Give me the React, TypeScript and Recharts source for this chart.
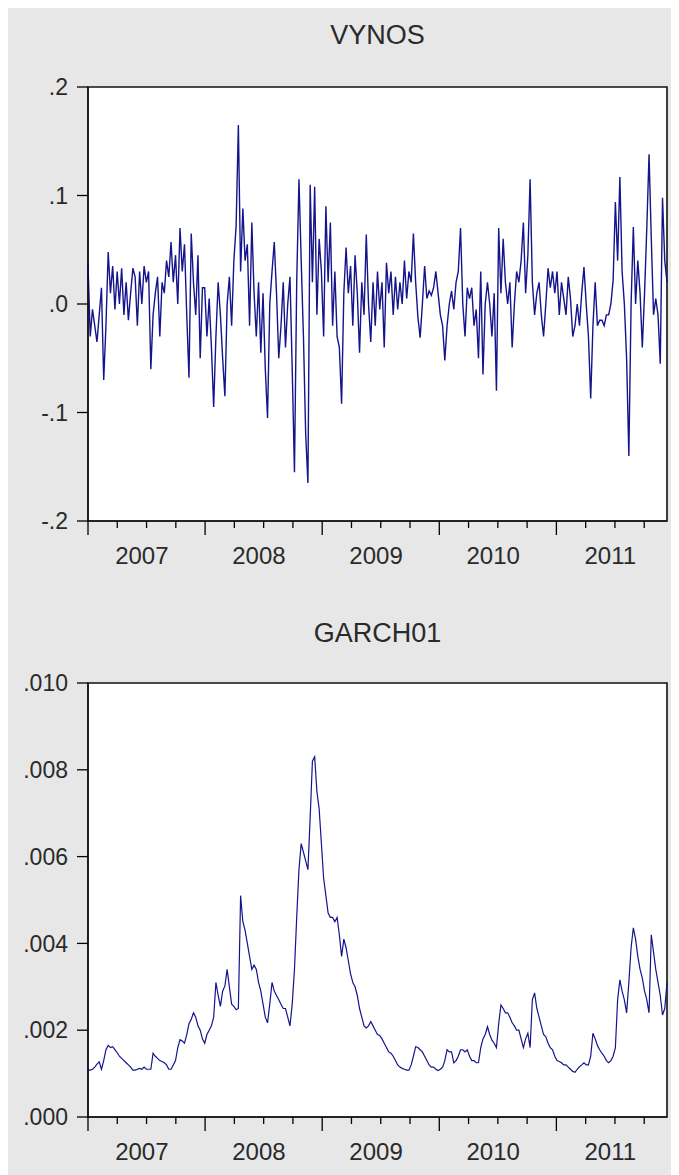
import React from 'react';
import { LineChart, Line, XAxis, YAxis, CartesianGrid, ReferenceArea } from 'recharts';

const START_YEAR = 2007;
const WEEK = 7 / 365.25;
const YEARS = [2007, 2008, 2009, 2010, 2011];

// weekly returns, Jan 2007 - Dec 2011
const VYNOS = [
  // 2007
  0.036, -0.03, -0.005, -0.02, -0.035, -0.01, 0.015, -0.07, -0.02, 0.048,
  0.01, 0.035, -0.005, 0.03, 0.0, 0.033, -0.01, 0.02, -0.015, 0.01,
  0.033, 0.025, -0.02, 0.03, 0.0, 0.035, 0.02, 0.03, -0.06, -0.01,
  0.01, 0.025, -0.03, 0.02, 0.01, 0.04, 0.025, 0.057, 0.02, 0.045,
  0.0, 0.07, 0.03, 0.055, -0.01, -0.068, 0.065, 0.02, -0.01, 0.045,
  -0.05, 0.015,
  // 2008
  0.015, -0.03, 0.005, -0.04, -0.095, -0.03, 0.02, -0.01, -0.05, -0.085,
  0.0, 0.025, -0.02, 0.04, 0.072, 0.165, 0.03, 0.088, 0.04, 0.055,
  -0.02, 0.075, 0.01, -0.03, 0.02, -0.045, 0.01, -0.06, -0.105, 0.0,
  0.03, 0.057, 0.01, -0.05, -0.02, 0.02, -0.04, 0.0, 0.025, -0.06,
  -0.155, 0.02, 0.115, 0.04, -0.03, -0.12, -0.165, 0.11, 0.02, 0.108,
  -0.01, 0.06,
  // 2009
  0.03, -0.03, 0.09, 0.02, 0.075, -0.02, 0.03, -0.03, -0.04, -0.092,
  0.01, 0.052, 0.01, 0.035, -0.02, 0.045, 0.01, -0.045, 0.02, -0.01,
  0.064, 0.0, -0.035, 0.02, -0.02, 0.03, -0.005, 0.02, -0.04, 0.038,
  0.01, 0.03, -0.01, 0.025, -0.005, 0.02, 0.0, 0.04, 0.005, 0.03,
  0.02, 0.065, 0.02, -0.012, -0.031, 0.0, 0.035, 0.005, 0.012, 0.008,
  0.015, 0.03,
  // 2010
  0.01, -0.01, -0.02, -0.052, -0.02, 0.0, 0.012, -0.005, 0.02, 0.03,
  0.07, 0.0, -0.03, 0.015, 0.005, 0.015, -0.02, -0.005, -0.05, 0.03,
  -0.065, 0.0, 0.02, 0.0, -0.03, 0.01, -0.08, 0.07, 0.01, 0.06,
  0.02, 0.0, 0.02, -0.04, 0.0, 0.03, 0.02, 0.04, 0.075, 0.01,
  0.045, 0.115, 0.02, -0.01, 0.01, 0.02, -0.01, -0.03, 0.0, 0.033,
  0.015, 0.03,
  // 2011
  0.01, 0.03, -0.01, 0.02, 0.005, -0.01, 0.025, 0.005, -0.03, -0.02,
  0.0, -0.02, 0.01, 0.034, 0.0, -0.03, -0.087, -0.02, 0.02, -0.02,
  -0.015, -0.015, -0.02, -0.01, -0.01, 0.0, 0.022, 0.094, 0.04, 0.117,
  0.03, 0.0, -0.05, -0.14, 0.0, 0.071, 0.0, 0.04, 0.01, -0.04,
  0.01, 0.07, 0.138, 0.06, -0.01, 0.005, -0.01, -0.055, 0.098, 0.04,
  0.02,
];

// conditional variance
const GARCH01 = [
  // 2007
  0.00108, 0.00108, 0.0011, 0.00115, 0.00122, 0.00127, 0.0011, 0.0013, 0.00155, 0.00165,
  0.0016, 0.00162, 0.00155, 0.00148, 0.0014, 0.00135, 0.0013, 0.00125, 0.0012, 0.00115,
  0.00108, 0.00108, 0.0011, 0.00112, 0.0011, 0.00115, 0.0011, 0.0011, 0.0011, 0.00147,
  0.0014, 0.00135, 0.0013, 0.00128, 0.00125, 0.0012, 0.0011, 0.0011, 0.0012, 0.0013,
  0.0016, 0.00178, 0.00175, 0.0017, 0.0019, 0.00215, 0.00225, 0.0024, 0.0023, 0.0021,
  0.002, 0.0018,
  // 2008
  0.0017, 0.0019, 0.002, 0.0021, 0.0023, 0.0031, 0.0028, 0.00255, 0.0029, 0.00302,
  0.0034, 0.003, 0.0026, 0.00255, 0.00247, 0.0025, 0.0051, 0.0045, 0.0043, 0.004,
  0.0037, 0.0034, 0.0035, 0.0034, 0.0031, 0.0029, 0.0026, 0.0023, 0.00217, 0.0026,
  0.0031, 0.0029, 0.0028, 0.0027, 0.0026, 0.0025, 0.0025, 0.0023, 0.0021, 0.0026,
  0.0034, 0.0046, 0.0057, 0.0063, 0.0061, 0.0059, 0.0057, 0.0069, 0.0082, 0.0083,
  0.0075, 0.0071,
  // 2009
  0.0063, 0.0055, 0.0051, 0.0047, 0.0046, 0.0046, 0.0045, 0.0046, 0.0042, 0.0037,
  0.0041, 0.0039, 0.0036, 0.0033, 0.0031, 0.003, 0.0028, 0.0025, 0.0023, 0.0021,
  0.00205, 0.0021, 0.0022, 0.0021, 0.002, 0.0019, 0.00188, 0.0018, 0.0017, 0.0016,
  0.0015, 0.00147, 0.0014, 0.0013, 0.0012, 0.00115, 0.00112, 0.0011, 0.00108, 0.00108,
  0.0012, 0.0014, 0.00162, 0.0016, 0.00155, 0.0015, 0.0014, 0.0013, 0.0012, 0.00115,
  0.00115, 0.0011,
  // 2010
  0.00107, 0.0011, 0.00115, 0.0013, 0.00155, 0.0015, 0.0015, 0.00125, 0.0013, 0.0014,
  0.00155, 0.00155, 0.0015, 0.00155, 0.0014, 0.0013, 0.0013, 0.00125, 0.00125, 0.0016,
  0.0018, 0.0019, 0.00208, 0.0019, 0.00177, 0.0017, 0.0016, 0.00215, 0.00258, 0.0025,
  0.0024, 0.0024, 0.0023, 0.00217, 0.0021, 0.002, 0.002, 0.0018, 0.0016, 0.0018,
  0.00193, 0.0016, 0.0027, 0.00286, 0.0025, 0.0023, 0.0021, 0.0019, 0.00185, 0.0017,
  0.0016, 0.00155,
  // 2011
  0.0014, 0.0013, 0.00128, 0.00125, 0.0012, 0.0012, 0.00115, 0.0011, 0.00105, 0.00103,
  0.0011, 0.00116, 0.0012, 0.00125, 0.0012, 0.0012, 0.0014, 0.00193, 0.0018, 0.00165,
  0.00155, 0.00147, 0.0014, 0.0013, 0.00125, 0.0013, 0.0014, 0.0016, 0.0027, 0.00316,
  0.0029, 0.0027, 0.0024, 0.0031, 0.0039, 0.00436, 0.0041, 0.0037, 0.0034, 0.0032,
  0.0029, 0.0027, 0.0024, 0.0042, 0.0038, 0.0034, 0.0031, 0.0028, 0.00235, 0.0025,
  0.0031,
];

const VYNOS_TICKS = [-0.2, -0.1, 0, 0.1, 0.2];
const GARCH_TICKS = [0, 0.002, 0.004, 0.006, 0.008, 0.01];

const FONT = '"Liberation Sans", Arial, sans-serif';
const LINE = '#14148c';
const BG = '#e7e7e7';
const TXT = '#2a2a2a';

const weeks = VYNOS.map((_, i) => START_YEAR + i * WEEK);
const vynosData = weeks.map((t, i) => ({ t, v: VYNOS[i] }));
const garchData = weeks.map((t, i) => ({ t, v: GARCH01[i] }));
const X_MIN = weeks[0];
const X_MAX = weeks[weeks.length - 1];

// quarter marks plus one label slot per year
const xTicks = YEARS.flatMap((y) => [y, y + 0.25, y + 0.5, y + 0.75, y + 0.46]).filter((v) => v <= X_MAX);

const trimZero = (digits: number) => (v: number) => v.toFixed(digits).replace(/^(-?)0\./, '$1.');

const YearTick = (props: any) => {
  const { x, y, payload } = props;
  const v = payload.value;
  const q = v * 4;
  if (Math.abs(q - Math.round(q)) < 1e-6) {
    const major = Math.abs(v - Math.round(v)) < 1e-6;
    return <line x1={x} x2={x} y1={y} y2={y + (major ? 14 : 7)} stroke="#000" strokeWidth={1.3} />;
  }
  return (
    <text x={x} y={y + 43} textAnchor="middle" fontSize={24} fill={TXT} fontFamily={FONT}>
      {Math.floor(v)}
    </text>
  );
};

const Panel = ({ data, top, height, bottom, domain, yTicks, digits, width }: any) => (
  <div style={{ position: 'absolute', left: 0, top }}>
    <LineChart width={671} height={height} data={data} margin={{ top: 79, right: 12, bottom, left: 0 }}>
      <CartesianGrid fill="#fff" horizontal={false} vertical={false} />
      <XAxis
        dataKey="t"
        type="number"
        domain={[X_MIN, X_MAX]}
        ticks={xTicks}
        interval={0}
        tickLine={false}
        tickSize={0}
        tickMargin={0}
        axisLine={{ stroke: '#000' }}
        tick={<YearTick />}
        height={50}
      />
      <YAxis
        type="number"
        domain={domain}
        ticks={yTicks}
        interval={0}
        width={80}
        tickSize={11}
        tickMargin={9}
        tickFormatter={trimZero(digits)}
        tick={{ fontSize: 23, fill: TXT, fontFamily: FONT }}
        axisLine={{ stroke: '#000' }}
        tickLine={{ stroke: '#000', strokeWidth: 1.3 }}
      />
      <ReferenceArea x1={X_MIN} x2={X_MAX} y1={domain[0]} y2={domain[1]} fill="none" stroke="#111" strokeWidth={1.6} />
      <Line dataKey="v" type="linear" stroke={LINE} strokeWidth={width} dot={false} isAnimationActive={false} />
    </LineChart>
  </div>
);

const Title = ({ text, top }: { text: string; top: number }) => (
  <div
    style={{
      position: 'absolute',
      left: 80,
      width: 579,
      top,
      textAlign: 'center',
      fontFamily: FONT,
      fontSize: 27,
      lineHeight: '27px',
      color: TXT,
    }}
  >
    {text}
  </div>
);

export default function App() {
  return (
    <div style={{ position: 'relative', width: 671, height: 1167, background: BG, overflow: 'hidden' }}>
      <Panel data={vynosData} top={0} height={596} bottom={33} domain={[-0.2, 0.2]} yTicks={VYNOS_TICKS} digits={1} width={1.4} />
      <Panel data={garchData} top={596} height={571} bottom={8} domain={[0, 0.01]} yTicks={GARCH_TICKS} digits={3} width={1.2} />
      <Title text="VYNOS" top={14} />
      <Title text="GARCH01" top={612} />
    </div>
  );
}
